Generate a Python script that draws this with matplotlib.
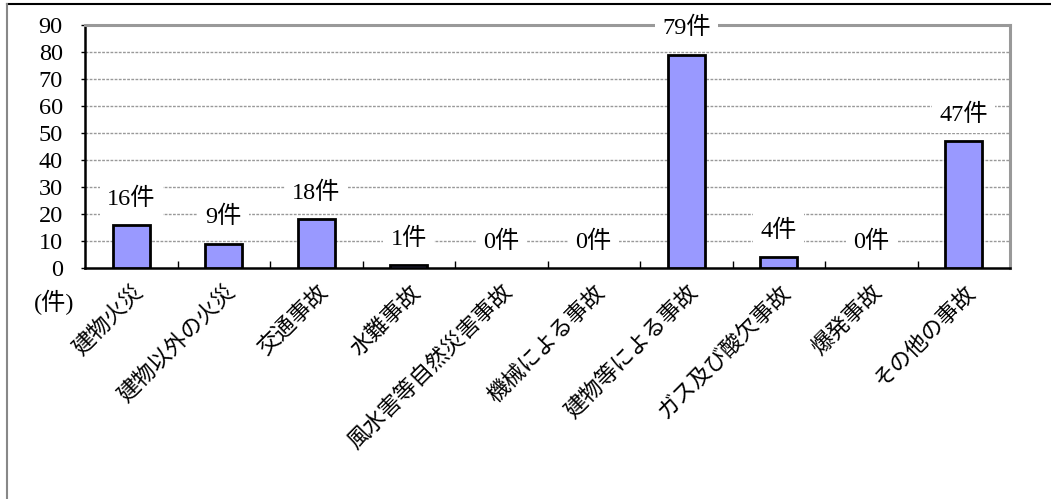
import matplotlib
matplotlib.use("Agg")
import matplotlib.pyplot as plt
from matplotlib.lines import Line2D
import numpy as np

categories = ["建物火災", "建物以外の火災", "交通事故", "水難事故", "風水害等自然災害事故",
              "機械による事故", "建物等による事故", "ガス及び酸欠事故", "爆発事故", "その他の事故"]
values = [16, 9, 18, 1, 0, 0, 79, 4, 0, 47]
value_labels = ["16件", "9件", "18件", "1件", "0件", "0件", "79件", "4件", "0件", "47件"]
yticks = [0, 10, 20, 30, 40, 50, 60, 70, 80, 90]

serif = ["Liberation Serif", "Noto Sans CJK JP", "DejaVu Sans"]
cjk = ["Noto Sans CJK JP", "DejaVu Sans"]

fig = plt.figure(figsize=(10.51, 4.99), dpi=100)
ax = fig.add_axes([85/1051, 1-268/499, (1010-85)/1051, (268-25)/499])

x = np.arange(len(categories))
bars = ax.bar(x, values, width=0.4, color="#9999FF", edgecolor="black", linewidth=2, zorder=3)
for b, v in zip(bars, values):
    if v == 0:
        b.set_visible(False)

ax.set_xlim(-0.5, len(categories) - 0.5)
ax.set_ylim(0, 90)
ax.set_yticks(yticks)
ax.set_yticklabels([str(v) for v in yticks], family=serif, fontsize=17.5)
for v in yticks[1:-1]:
    ax.axhline(v, color="#999999", linestyle=(0, (2, 1)), linewidth=1, zorder=1)

ax.set_xticks(x)
ax.set_xticklabels(categories, family=cjk, fontsize=16, rotation=45, ha="right",
                   va="top", rotation_mode="anchor")
ax.tick_params(axis="x", which="major", length=0, pad=9)
ax.set_xticks(np.arange(0.5, len(categories) - 1, 1.0), minor=True)
ax.tick_params(axis="x", which="minor", direction="in", length=5, width=1, color="black")
ax.tick_params(axis="y", direction="out", length=3, width=1, pad=13)

for s in ["left", "bottom"]:
    ax.spines[s].set_color("black")
    ax.spines[s].set_linewidth(1.8)
for s in ["top", "right"]:
    ax.spines[s].set_color("#999999")
    ax.spines[s].set_linewidth(2.2)

for xi, v, lab in zip(x, values, value_labels):
    ax.annotate(lab, (xi, v), xytext=(0, 19), textcoords="offset points",
                ha="center", va="center", family=serif, fontsize=17.5, zorder=4,
                bbox=dict(boxstyle="square,pad=0.3", fc="white", ec="none"))

ax.text(-0.033, -0.14, "(件)", transform=ax.transAxes, family=serif, fontsize=17.5,
        ha="center", va="center")

# outer frame (top and left)
fig.add_artist(Line2D([7/1051, 1], [1-4/499, 1-4/499], transform=fig.transFigure,
                      color="black", linewidth=1.5))
fig.add_artist(Line2D([7/1051, 7/1051], [0, 1-4/499], transform=fig.transFigure,
                      color="#888888", linewidth=1.5))

fig.savefig("out.png", dpi=100)
